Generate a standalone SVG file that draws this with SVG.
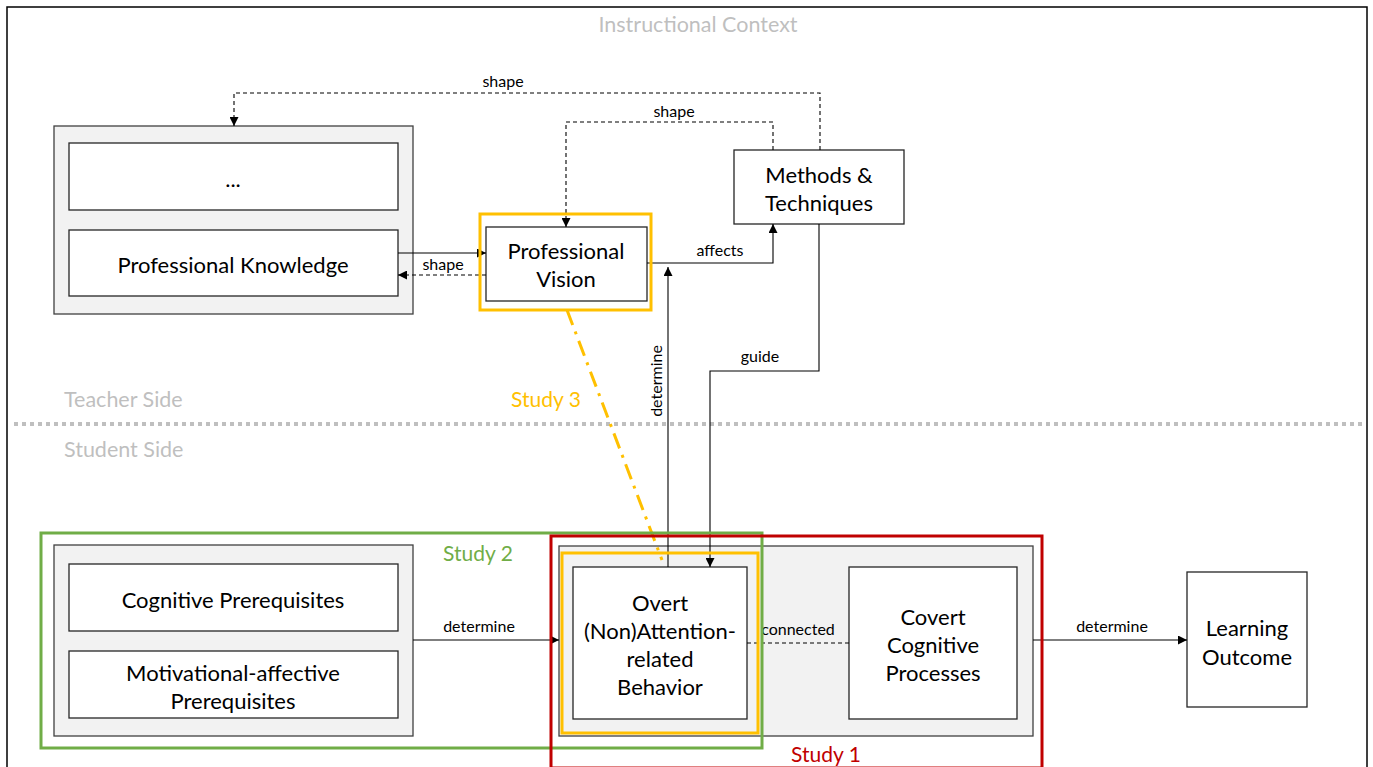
<svg xmlns="http://www.w3.org/2000/svg" width="1373" height="767" viewBox="0 0 1373 767">
<style>
text{font-family:Lato,"Liberation Sans",sans-serif;fill:#000}
.n{font-size:22px;text-anchor:middle;dominant-baseline:central}
.l{font-size:16px;text-anchor:middle;dominant-baseline:central}
.g{font-size:21.5px;fill:#bfbfbf;dominant-baseline:central}
.s{font-size:21px;text-anchor:middle;dominant-baseline:central}
.box{fill:#fff;stroke:#262626;stroke-width:1.3}
.grp{fill:#f2f2f2;stroke:#404040;stroke-width:1.3}
.c{fill:none;stroke:#000;stroke-width:1.1}
.d{stroke-dasharray:4 3}
</style>
<defs>
<marker id="ah" viewBox="0 0 10 10" refX="10" refY="5" markerWidth="9" markerHeight="9" markerUnits="userSpaceOnUse" orient="auto"><path d="M0,0L10,5L0,10z" fill="#000"/></marker>
</defs>
<rect width="1373" height="767" fill="#fff"/>
<rect x="7" y="7" width="1360" height="770" fill="none" stroke="#000" stroke-width="1.5"/>
<text class="g" x="698" y="24" text-anchor="middle">Instructional Context</text>
<line x1="14" y1="424" x2="1362" y2="424" stroke="#bfbfbf" stroke-width="4" stroke-dasharray="4 4"/>
<text class="g" x="64" y="399">Teacher Side</text>
<text class="g" x="64" y="449">Student Side</text>

<g id="teacher-knowledge">
<rect class="grp" x="54" y="126" width="359" height="188"/>
<g id="dots"><rect class="box" x="69" y="143" width="329" height="67"/><text class="n" x="233" y="178">...</text></g>
<g id="professional-knowledge"><rect class="box" x="69" y="230" width="329" height="66"/><text class="n" x="233" y="264">Professional  Knowledge</text></g>
</g>

<g id="professional-vision">
<rect class="box" x="486" y="227" width="161" height="74"/>
<text class="n" x="566" y="250">Professional</text>
<text class="n" x="566" y="278">Vision</text>
</g>

<g id="methods">
<rect class="box" x="734" y="150" width="170" height="74"/>
<text class="n" x="819" y="174">Methods &amp;</text>
<text class="n" x="819" y="202">Techniques</text>
</g>

<g id="prerequisites">
<rect class="grp" x="54" y="545" width="359" height="191"/>
<g id="cognitive-prerequisites"><rect class="box" x="69" y="564" width="329" height="67"/><text class="n" x="233" y="599">Cognitive  Prerequisites</text></g>
<g id="motivational-prerequisites"><rect class="box" x="69" y="651" width="329" height="67"/><text class="n" x="233" y="672">Motivational-affective</text><text class="n" x="233" y="700">Prerequisites</text></g>
</g>

<g id="student-processes">
<rect class="grp" x="559" y="546" width="474" height="190"/>
<g id="overt"><rect class="box" x="573" y="567" width="174" height="152"/>
<text class="n" x="660" y="602">Overt</text>
<text class="n" x="660" y="630">(Non)Attention-</text>
<text class="n" x="660" y="658">related</text>
<text class="n" x="660" y="686">Behavior</text></g>
<g id="covert"><rect class="box" x="849" y="567" width="168" height="152"/>
<text class="n" x="933" y="616">Covert</text>
<text class="n" x="933" y="644">Cognitive</text>
<text class="n" x="933" y="672">Processes</text></g>
</g>

<g id="learning-outcome">
<rect class="box" x="1187" y="572" width="120" height="135"/>
<text class="n" x="1247" y="627">Learning</text>
<text class="n" x="1247" y="656">Outcome</text>
</g>

<g id="connectors">
<path class="c d" d="M820,150V93H234V126" marker-end="url(#ah)"/>
<text class="l" x="503" y="80">shape</text>
<path class="c d" d="M773,150V122H566V227" marker-end="url(#ah)"/>
<text class="l" x="674" y="110">shape</text>
<path class="c" d="M398,253H486" marker-end="url(#ah)"/>
<path class="c d" d="M486,275H398" marker-end="url(#ah)"/>
<text class="l" x="443" y="263">shape</text>
<path class="c" d="M647,263H773V224" marker-end="url(#ah)"/>
<text class="l" x="720" y="249">affects</text>
<path class="c" d="M668,567V267" marker-end="url(#ah)"/>
<text class="l" transform="translate(655,381) rotate(-90)" x="0" y="0">determine</text>
<path class="c" d="M819,224V371H710V567" marker-end="url(#ah)"/>
<text class="l" x="760" y="355">guide</text>
<path class="c" d="M413,640H559" marker-end="url(#ah)"/>
<text class="l" x="479" y="625">determine</text>
<path class="c d" d="M747,643H849"/>
<text class="l" x="798" y="628">connected</text>
<path class="c" d="M1033,640H1187" marker-end="url(#ah)"/>
<text class="l" x="1112" y="625">determine</text>
<path d="M567,310L662,560" fill="none" stroke="#ffc000" stroke-width="3" stroke-dasharray="16 7 3 7"/>
</g>

<g id="studies">
<rect x="480" y="214" width="171" height="96" fill="none" stroke="#ffc000" stroke-width="3"/>
<text class="s" x="546" y="398" style="fill:#ffc000">Study 3</text>
<rect x="41" y="533" width="721" height="215" fill="none" stroke="#70ad47" stroke-width="3"/>
<text class="s" x="478" y="552" style="fill:#70ad47">Study 2</text>
<rect x="551" y="536" width="491" height="232" fill="none" stroke="#c00000" stroke-width="3"/>
<text class="s" x="826" y="753" style="fill:#c00000">Study 1</text>
<rect x="562" y="553" width="196" height="180" fill="none" stroke="#ffc000" stroke-width="3"/>
</g>
</svg>
